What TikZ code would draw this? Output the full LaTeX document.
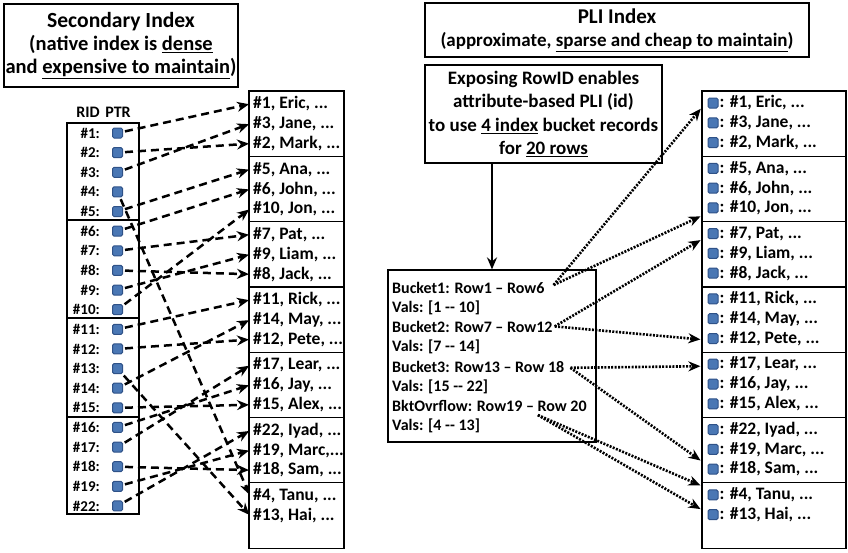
\documentclass[tikz,border=0pt]{standalone}
\usepackage{fontspec}
\setmainfont{Carlito}
\usetikzlibrary{arrows.meta,calc}

\definecolor{ptrblue}{HTML}{4A77B4}
\definecolor{ptredge}{HTML}{2F5288}

\begin{document}
\begin{tikzpicture}[x=1pt,y=-1pt,>={Stealth[length=12pt,width=10pt]},font=\bfseries,
        titlebox/.style={draw,line width=1.6pt,align=center,inner sep=0pt},
        page/.style={draw,line width=1.2pt,minimum width=95,minimum height=65.3,inner sep=0pt},
        rpage/.style={page,minimum width=144},
        ptr/.style={draw=ptredge,fill=ptrblue,line width=1pt,rounded corners=1.5pt,minimum size=10,inner sep=0pt},
        rid/.style={anchor=east,inner sep=1pt,font=\bfseries\fontsize{15}{18}\selectfont},
        rec/.style={anchor=west,inner xsep=3pt,inner ysep=1pt,font=\bfseries\fontsize{17.5}{20}\selectfont},
        bkt/.style={anchor=west,inner sep=1pt,font=\bfseries\fontsize{16}{19}\selectfont},
        dasharrow/.style={->,line width=2.5pt,dash pattern=on 8pt off 5pt,shorten <=2pt,shorten >=1pt},
        dotarrow/.style={->,line width=2.6pt,dash pattern=on 2pt off 1.4pt,shorten >=1pt}]

        \useasboundingbox (0,0) rectangle (848,552);

        % titles
        \node[titlebox,minimum width=234,minimum height=83,font=\bfseries\fontsize{20.5}{23}\selectfont] (sectitle) at (121,45.5)
          {{\fontsize{21.6}{24}\selectfont Secondary Index}\\
           (native index is \underline{dense}\\
           and \underline{expensive to maintain})};
        \node[titlebox,minimum width=384,minimum height=54,font=\bfseries\fontsize{19}{23}\selectfont] (plititle) at (617,30)
          {{\fontsize{21}{24}\selectfont PLI Index}\\
           (approximate, \underline{sparse and cheap to maintain})};
        \node[titlebox,minimum width=237,minimum height=98,font=\bfseries\fontsize{19}{23.3}\selectfont] (expose) at (543.5,114)
          {Exposing RowID enables\\
           attribute-based PLI (id)\\
           to use \underline{4 index} bucket records\\
           for \underline{20 rows}};

        % secondary index
        \node[font=\bfseries\fontsize{16}{18}\selectfont] (ridhead) at (88,112) {RID};
        \node[font=\bfseries\fontsize{16}{18}\selectfont] (ptrhead) at (118,112) {PTR};
        \foreach \top/\bot in {123/220,220/318,318/417,417/514}
          \draw[line width=1.2pt] (67,\top) rectangle (139,\bot);
        \foreach \rn [count=\i from 0] in {1,2,3,4,5,6,7,8,9,10,11,12,13,14,15,16,17,18,19,22} {
          \node[rid] (r\rn) at (101,133+19.63*\i) {\#\rn:};
          \node[ptr] (p\rn) at (117.5,133+19.63*\i) {};
        }

        % data pages
        \foreach \recs [count=\k from 0] in {{1/Eric,3/Jane,2/Mark},{5/Ana,6/John,10/Jon},{7/Pat,9/Liam,8/Jack},
            {11/Rick,14/May,12/Pete},{17/Lear,16/Jay,15/Alex},{22/Iyad,19/Marc,18/Sam},{4/Tanu,13/Hai}} {
          \node[page] (lpage\k) at (296.5,123.65+65.3*\k) {};
          \node[rpage] (rpage\k) at (774,123.65+65.3*\k) {};
          \foreach \rn/\name [count=\j from 0] in \recs {
            \node[rec] (l\rn) at (250,104+65.3*\k+19.8*\j) {\#\rn, \name,\ifnum\rn=19 \else\ \fi...};
            \node[ptr] (q\rn) at (713,103+65.3*\k+19.8*\j) {};
            \node[rec,inner xsep=1pt] (s\rn) at (718.5,103+65.3*\k+19.8*\j) {: \#\rn, \name, ...};
          }
        }

        % buckets
        \node[draw,line width=1.2pt,minimum width=208,minimum height=172] (bucketbox) at (492,356) {};
        \foreach \txt [count=\i from 0] in {Bucket1: Row1 – Row6,Vals: [1 -{}- 10],Bucket2: Row7 – Row12,Vals: [7 -{}- 14],
            Bucket3: Row13 – Row 18,Vals: [15 -{}- 22],BktOvrflow: Row19 – Row 20,Vals: [4 -{}- 13]}
          \node[bkt] (bk\i) at (391,288+19.7*\i) {\txt};
        \draw[->,line width=2pt] (bucketbox.north |- expose.south) -- (bucketbox.north);

        % pointers
        \foreach \rn in {1,2,3,4,5,6,7,8,9,10,11,12,13,14,15,16,17,18,19,22}
          \draw[dasharrow] (p\rn) -- (l\rn.west);

        \draw[dotarrow] ($(bk0.east)+(8,-3)$) -- ($(rpage0.west |- q1)+(0,5)$);
        \draw[dotarrow] ($(bk0.east)+(8,-3)$) -- ($(rpage1.west |- q10)+(0,8)$);
        \draw[dotarrow] ($(bk2.east)+(1,-1)$) -- ($(rpage2.west |- q7)+(0,6)$);
        \draw[dotarrow] ($(bk2.east)+(1,-1)$) -- ($(rpage3.west |- q12)+(0,1)$);
        \draw[dotarrow] ($(bk4.east)+(5,1)$) -- ($(rpage4.west |- q17)+(0,2)$);
        \draw[dotarrow] ($(bk4.east)+(5,1)$) -- ($(rpage5.west |- q18)+(0,-8)$);
        \draw[dotarrow] ($(bk6.south east)+(-50,2)$) -- ($(rpage6.west |- q4)+(0,-9)$);
        \draw[dotarrow] ($(bk6.south east)+(-50,2)$) -- ($(rpage6.west |- q13)+(0,-5)$);
      \end{tikzpicture}
\end{document}
